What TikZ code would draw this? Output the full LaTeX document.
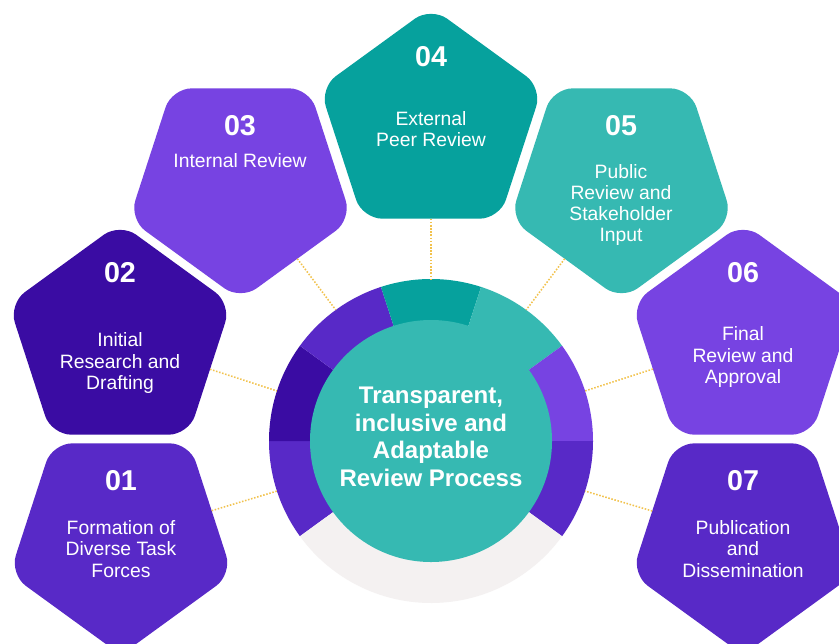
\documentclass[tikz,border=0pt]{standalone}
\usepackage{fontspec}
\setmainfont{Liberation Sans}
\usetikzlibrary{shapes.geometric,calc}
\definecolor{cMed}{HTML}{5829C7}
\definecolor{cDark}{HTML}{3A0CA3}
\definecolor{cLight}{HTML}{7743E2}
\definecolor{cTealD}{HTML}{06A19D}
\definecolor{cTealL}{HTML}{36B9B2}
\definecolor{cGray}{HTML}{F4F1F1}
\definecolor{cDot}{HTML}{F2C24C}
\newcommand\ringseg[3]{\fill[#3] (C) -- ($(C)+(-#1:162)$) arc[start angle=-#1, end angle=-#2, radius=162] -- cycle;}
\begin{document}
\begin{tikzpicture}[x=0.03cm,y=-0.03cm,
 penta/.style={regular polygon, regular polygon sides=5, minimum size=7.02cm, inner sep=0pt, outer sep=0pt, rounded corners=0.6cm, draw=none},
 pdown/.style={penta, shape border rotate=180},
 numtxt/.style={text=white, inner sep=0pt, font=\fontsize{24.5}{26}\selectfont\bfseries},
 bodytxt/.style={text=white, inner sep=0pt, align=center, font=\fontsize{16.5}{18.2}\selectfont},
 hubtxt/.style={text=white, inner sep=0pt, align=center, font=\fontsize{20.5}{23.5}\selectfont\bfseries},
 link/.style={cDot, line width=1.3pt, dash pattern=on 1.3pt off 1.4pt},
]
\path[use as bounding box] (0,0) rectangle (839,643);
\clip (0,0) rectangle (839,643);
\fill[white] (0,0) rectangle (839,643);
\coordinate (C) at (431,441);
% ring
\ringseg{180}{216}{cMed}
\ringseg{144}{180}{cDark}
\ringseg{108}{144}{cMed}
\ringseg{72}{108}{cTealD}
\ringseg{36}{72}{cTealL}
\ringseg{0}{36}{cLight}
\ringseg{324}{360}{cMed}
\ringseg{216}{324}{cGray}
\node[circle, fill=cTealL, minimum size=7.26cm, inner sep=0pt] (hub) at (C) {};
\node[hubtxt] (hubt) at (431,437) {Transparent,\\inclusive and\\Adaptable\\Review Process};
% ring anchor points
\coordinate (r1) at ($(C)+(-198:162)$);
\coordinate (r2) at ($(C)+(-162:162)$);
\coordinate (r3) at ($(C)+(-126:162)$);
\coordinate (r4) at ($(C)+(-90:162)$);
\coordinate (r5) at ($(C)+(-54:162)$);
\coordinate (r6) at ($(C)+(-18:162)$);
\coordinate (r7) at ($(C)+(18:162)$);
% pentagons
\node[penta, fill=cTealD] (p4) at (431,124) {};
\node[pdown, fill=cLight] (p3) at (240.5,183) {};
\node[pdown, fill=cTealL] (p5) at (621.5,183) {};
\node[penta, fill=cDark] (p2) at (120,340) {};
\node[penta, fill=cLight] (p6) at (743,340) {};
\node[pdown, fill=cMed] (p1) at (121,538) {};
\node[pdown, fill=cMed] (p7) at (743,538) {};
% connectors
\draw[link] (p1) -- (r1);
\draw[link] (p2) -- (r2);
\draw[link] (p3) -- (r3);
\draw[link] (p4) -- (r4);
\draw[link] (p5) -- (r5);
\draw[link] (p6) -- (r6);
\draw[link] (p7) -- (r7);
% texts
\node[numtxt] (n4) at (431,57) {04};
\node[bodytxt] (t4) at (431,129) {External\\Peer Review};
\node[numtxt] (n3) at (240,126) {03};
\node[bodytxt] (t3) at (240,161) {Internal Review};
\node[numtxt] (n5) at (621,126) {05};
\node[bodytxt] (t5) at (621,205) {Public\\Review and\\Stakeholder\\Input};
\node[numtxt] (n2) at (120,273) {02};
\node[bodytxt] (t2) at (120,363) {Initial\\Research and\\Drafting};
\node[numtxt] (n6) at (743,273) {06};
\node[bodytxt] (t6) at (743,357) {Final\\Review and\\Approval};
\node[numtxt] (n1) at (121,481) {01};
\node[bodytxt] (t1) at (121,549) {Formation of\\Diverse Task\\Forces};
\node[numtxt] (n7) at (743,481) {07};
\node[bodytxt] (t7) at (743,549) {Publication\\and\\Dissemination};
\end{tikzpicture}
\end{document}
